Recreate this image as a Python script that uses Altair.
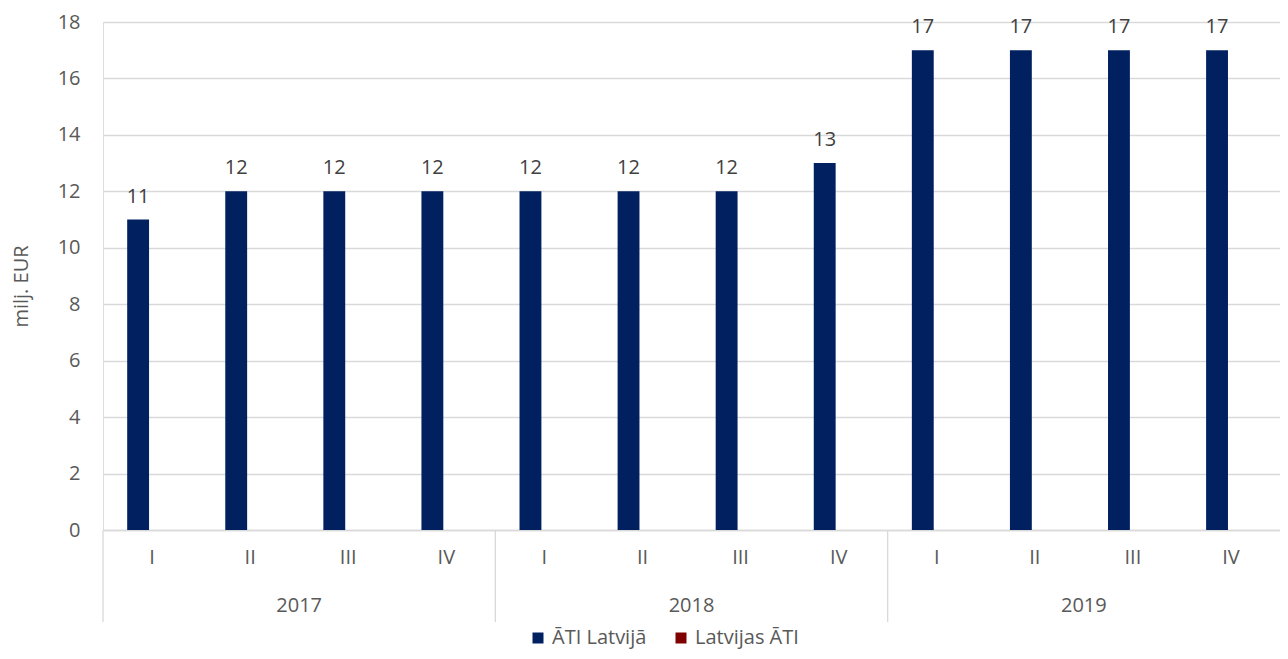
import altair as alt
import pandas as pd

years = ["2017", "2018", "2019"]
quarters = ["I", "II", "III", "IV"]
series = ["ĀTI Latvijā", "Latvijas ĀTI"]
ati_latvija = [11, 12, 12, 12, 12, 12, 12, 13, 17, 17, 17, 17]
latvijas_ati = [None] * 12
colors = ["#002060", "#7F0000"]

keys = [f"{y}-{q}" for y in years for q in quarters]

rows = []
for i, k in enumerate(keys):
    rows.append({"key": k, "series": series[0], "value": ati_latvija[i]})
    rows.append({"key": k, "series": series[1], "value": latvijas_ati[i]})
df = pd.DataFrame(rows)

year_df = pd.DataFrame({"year": years, "key": [f"{y}-II" for y in years]})
sep_df = pd.DataFrame({"key": [f"{y}-I" for y in years]})

FONT = "Open Sans"
FS = 20
W, H = 1177, 508

x_scale = alt.Scale(domain=keys, paddingInner=0, paddingOuter=0)
xo_scale = alt.Scale(domain=series, paddingInner=0.2143, paddingOuter=0.869)
y_scale = alt.Scale(domain=[0, 18], nice=False)

x_enc = alt.X("key:N", scale=x_scale, sort=keys,
              axis=alt.Axis(title=None, labelExpr="split(datum.label, '-')[1]",
                            labelAngle=0, ticks=False, labelPadding=17,
                            labelFontSize=FS, labelColor="#595959", labelFont=FONT,
                            domainColor="#D9D9D9", domainWidth=1.3, grid=False))

bars = alt.Chart(df).mark_bar(stroke=None).encode(
    x=x_enc,
    xOffset=alt.XOffset("series:N", scale=xo_scale, sort=series),
    y=alt.Y("value:Q", scale=y_scale,
            axis=alt.Axis(title="milj. EUR", values=list(range(0, 19, 2)),
                          ticks=False, domain=False, gridColor="#D9D9D9", gridWidth=1.3,
                          labelFontSize=FS, labelColor="#595959", labelFont=FONT,
                          labelPadding=23, titleFontSize=FS, titleColor="#595959",
                          titleFont=FONT, titleFontWeight="normal",
                          titleBaseline="middle", titleAlign="center",
                          titleX=-82, titleY=264, titleAngle=-90)),
    color=alt.Color("series:N", scale=alt.Scale(domain=series, range=colors),
                    legend=alt.Legend(title=None, orient="none", direction="horizontal",
                                      legendX=425, legendY=606,
                                      symbolType="square", symbolSize=121,
                                      symbolStrokeWidth=0, labelFontSize=FS,
                                      labelColor="#595959", labelFont=FONT,
                                      labelOffset=4, columnPadding=24)),
)

labels = alt.Chart(df).transform_filter("datum.value != null").mark_text(
    baseline="alphabetic", dy=-17, fontSize=FS, color="#404040", font=FONT
).encode(
    x=alt.X("key:N", scale=x_scale, sort=keys),
    xOffset=alt.XOffset("series:N", scale=xo_scale, sort=series),
    y=alt.Y("value:Q", scale=y_scale),
    text=alt.Text("value:Q"),
)

seps = alt.Chart(sep_df).mark_rule(color="#D9D9D9", strokeWidth=1.3).encode(
    x=alt.X("key:N", scale=x_scale, sort=keys, bandPosition=0),
    y=alt.value(H),
    y2=alt.value(H + 92),
)

year_text = alt.Chart(year_df).mark_text(
    baseline="middle", fontSize=FS, color="#595959", font=FONT
).encode(
    x=alt.X("key:N", scale=x_scale, sort=keys, bandPosition=1),
    y=alt.value(H + 76),
    text="year:N",
)

chart = alt.layer(bars, labels, seps, year_text).properties(
    width=W, height=H,
    autosize=alt.AutoSizeParams(type="none"),
    padding={"left": 95, "top": 14, "right": 0, "bottom": 121},
).configure_view(stroke=None).configure(font=FONT)

chart.save("out.html", embed_options={"renderer": "svg", "actions": False})
